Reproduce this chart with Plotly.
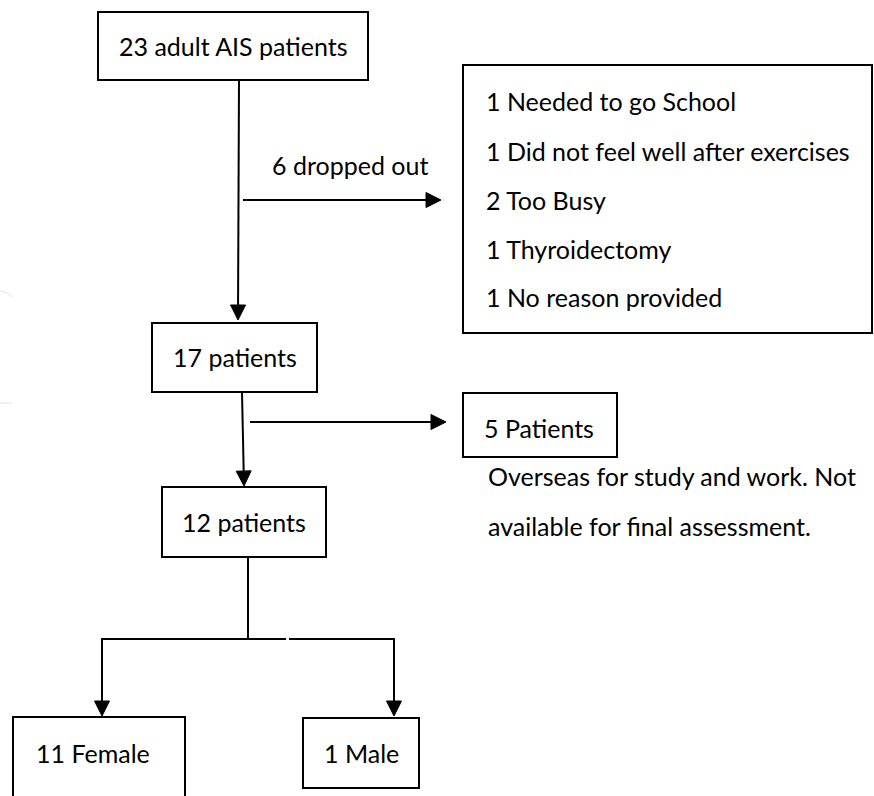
import math
import plotly.graph_objects as go

# ---- content ----
node_labels = ["23 adult AIS patients", "17 patients", "12 patients", "11 Female", "1 Male"]
lost_label = "5 Patients"
dropout_label = "6 dropped out"
dropout_reasons = [
    "1 Needed to go School",
    "1 Did not feel well after exercises",
    "2 Too Busy",
    "1 Thyroidectomy",
    "1 No reason provided",
]
lost_note = ["Overseas for study and work. Not", "available for final assessment."]

# ---- layout (pixel canvas) ----
W, H = 874, 796
FONT = "Lato"
FS = 25
LW = 2
boxes = [  # x0, y0, x1, y1 for node_labels
    (98, 12, 368, 80),
    (152, 323, 317, 392),
    (162, 487, 326, 557),
    (13, 717, 185, 805),
    (303, 718, 419, 788),
]
text_pos = [  # x, y, anchor
    (233, 46, "center"),
    (235, 357, "center"),
    (244, 522, "center"),
    (34, 753, "left"),
    (361, 753, "center"),
]
reasons_box = (463, 65, 872, 333)
reasons_x = 484
reasons_y = [101, 151, 200, 249, 297]
lost_box = (463, 393, 617, 457)
lost_text = (482, 428)
note_x = 486
note_y = [476, 526]

fig = go.Figure()
shapes = []
annotations = []


def rect(b):
    shapes.append(dict(type="rect", x0=b[0], y0=b[1], x1=b[2], y1=b[3],
                       xref="x", yref="y", line=dict(color="black", width=LW),
                       fillcolor="rgba(0,0,0,0)", layer="above"))


def line(x0, y0, x1, y1):
    shapes.append(dict(type="line", x0=x0, y0=y0, x1=x1, y1=y1, xref="x", yref="y",
                       line=dict(color="black", width=LW)))


def arrow(x0, y0, x1, y1, L=15, Wd=15):
    dx, dy = x1 - x0, y1 - y0
    n = math.hypot(dx, dy)
    ux, uy = dx / n, dy / n
    bx, by = x1 - ux * L, y1 - uy * L
    line(x0, y0, bx, by)
    px, py = -uy * Wd / 2, ux * Wd / 2
    path = f"M {x1},{y1} L {bx+px},{by+py} L {bx-px},{by-py} Z"
    shapes.append(dict(type="path", path=path, xref="x", yref="y",
                       fillcolor="black", line=dict(color="black", width=1)))


def text(x, y, s, anchor="left"):
    annotations.append(dict(x=x, y=y, xref="x", yref="y", text=s, showarrow=False,
                            xanchor=anchor, yanchor="middle",
                            font=dict(family=FONT, size=FS, color="black")))


for b in boxes:
    rect(b)
for (x, y, a), s in zip(text_pos, node_labels):
    text(x, y, s, a)

rect(reasons_box)
for y, s in zip(reasons_y, dropout_reasons):
    text(reasons_x, y, s)

rect(lost_box)
text(lost_text[0], lost_text[1], lost_label)
for y, s in zip(note_y, lost_note):
    text(note_x, y, s)

text(270, 165, dropout_label)

# arrows / connectors
arrow(239, 80, 238, 320)
arrow(243, 200, 441, 200)
arrow(242, 392, 244, 486)
arrow(250, 422, 446, 422)
line(248, 557, 248, 639)
line(101, 639, 286, 639)
line(289, 639, 395, 639)
arrow(102, 639, 102, 716)
arrow(394, 639, 394, 716)

# faint watermark remnants at left edge
shapes.append(dict(type="path", path="M 0,291 Q 8,292 12,297", xref="x", yref="y",
                   line=dict(color="#f0f0f0", width=2)))
shapes.append(dict(type="line", x0=0, y0=403, x1=12, y1=403, xref="x", yref="y",
                   line=dict(color="#f0f0f0", width=2)))

fig.update_layout(
    width=W, height=H,
    margin=dict(l=0, r=0, t=0, b=0),
    paper_bgcolor="white", plot_bgcolor="white",
    xaxis=dict(range=[0, W], visible=False, fixedrange=True),
    yaxis=dict(range=[H, 0], visible=False, fixedrange=True),
    shapes=shapes, annotations=annotations, showlegend=False,
)
fig.write_html(
    "out.html",
    config={"displayModeBar": False, "staticPlot": True},
    post_script="document.body.style.margin='0';document.body.style.overflow='hidden';",
)
